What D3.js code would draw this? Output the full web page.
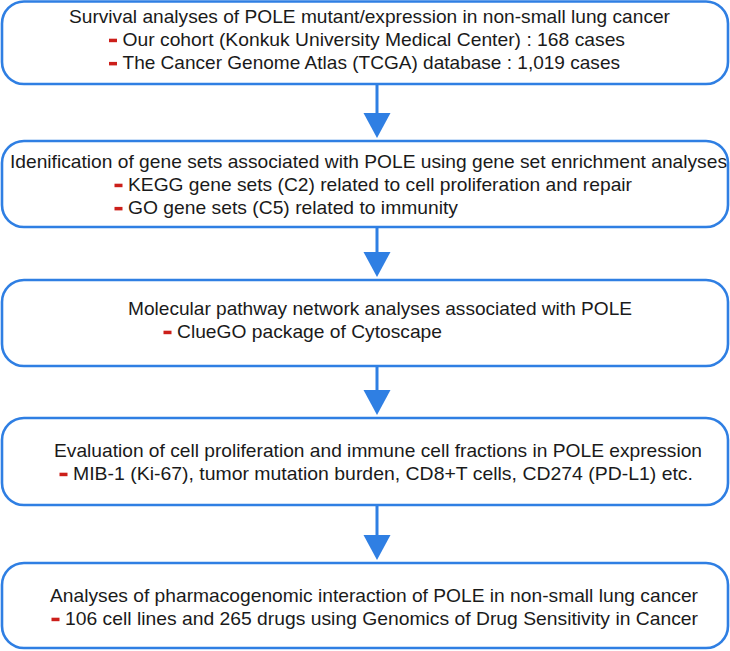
<!DOCTYPE html>
<html>
<head>
<meta charset="utf-8">
<script src="https://cdn.jsdelivr.net/npm/d3@7"></script>
<style>
  html, body { margin: 0; padding: 0; background: #ffffff; }
  svg { display: block; }
</style>
</head>
<body>
<svg id="chart" width="730" height="651"></svg>
<script>
// ---- content ----
const stepTitles = [
  "Survival analyses of POLE mutant/expression in non-small lung cancer",
  "Idenification of gene sets associated with POLE using gene set enrichment analyses",
  "Molecular pathway network analyses associated with POLE",
  "Evaluation of cell proliferation and immune cell fractions in POLE expression",
  "Analyses of pharmacogenomic interaction of POLE in non-small lung cancer"
];
const stepBullets = [
  ["Our cohort (Konkuk University Medical Center) : 168 cases",
   "The Cancer Genome Atlas (TCGA) database : 1,019 cases"],
  ["KEGG gene sets (C2) related to cell proliferation and repair",
   "GO gene sets (C5) related to immunity"],
  ["ClueGO package of Cytoscape"],
  ["MIB-1 (Ki-67), tumor mutation burden, CD8+T cells, CD274 (PD-L1) etc."],
  ["106 cell lines and 265 drugs using Genomics of Drug Sensitivity in Cancer"]
];

// ---- layout ----
const boxTops    = [1.5, 141, 280, 418, 563];
const boxBottoms = [84, 227, 366, 505, 648];
const titleSpan  = [[69, 670], [10, 727], [128, 632], [54, 702], [50, 698]];
const bulletSpan = [[[122.5, 625], [122.5, 620]], [[128, 632], [128, 458]], [[177, 442]], [[73, 693]], [[65, 698]]];
const titleBase  = [23, 168, 315, 457, 602];
const lineGap = 23.2;
const boxLeft = 2, boxRight = 728, radius = 22;
const arrowX = 377;
const blue = "#2f7fe3";
const fontSize = 19;
const font = "Liberation Sans, Arial, sans-serif";

const svg = d3.select("#chart");
const steps = stepTitles.map((t, i) => ({
  title: t, bullets: stepBullets[i],
  top: boxTops[i], bottom: boxBottoms[i],
  tspan: titleSpan[i], bspan: bulletSpan[i], base: titleBase[i]
}));

// arrows
const arrows = steps.slice(0, -1).map((s, i) => ({ y0: s.bottom, y1: steps[i + 1].top }));
const ag = svg.append("g");
ag.selectAll("line").data(arrows).join("line")
  .attr("x1", arrowX).attr("x2", arrowX)
  .attr("y1", d => d.y0).attr("y2", d => d.y1 - 20)
  .attr("stroke", blue).attr("stroke-width", 3);
ag.selectAll("path").data(arrows).join("path")
  .attr("d", d => `M${arrowX - 13.5},${d.y1 - 28} L${arrowX + 13.5},${d.y1 - 28} L${arrowX},${d.y1 - 3} Z`)
  .attr("fill", blue);

// boxes
const g = svg.selectAll("g.step").data(steps).join("g").attr("class", "step");
g.append("rect")
  .attr("x", boxLeft).attr("y", d => d.top)
  .attr("width", boxRight - boxLeft).attr("height", d => d.bottom - d.top)
  .attr("rx", radius).attr("ry", radius)
  .attr("fill", "#ffffff").attr("stroke", blue).attr("stroke-width", 2.6);

g.append("text")
  .attr("x", d => d.tspan[0]).attr("y", d => d.base)
  .attr("font-family", font)
  .attr("font-size", fontSize).attr("fill", "#1a1a1a")
  .attr("textLength", d => d.tspan[1] - d.tspan[0])
  .attr("lengthAdjust", "spacingAndGlyphs")
  .text(d => d.title);

g.each(function (d) {
  const sel = d3.select(this);
  d.bullets.forEach((b, j) => {
    const y = d.base + lineGap * (j + 1);
    const [x0, x1] = d.bspan[j];
    sel.append("rect")
      .attr("x", x0 - 13.5).attr("y", y - 7.5)
      .attr("width", 8).attr("height", 3.5)
      .attr("fill", "#cc1f1a");
    sel.append("text")
      .attr("x", x0).attr("y", y)
      .attr("font-family", font)
      .attr("font-size", fontSize).attr("fill", "#1a1a1a")
      .attr("textLength", x1 - x0)
      .attr("lengthAdjust", "spacingAndGlyphs")
      .text(b);
  });
});
</script>
</body>
</html>
